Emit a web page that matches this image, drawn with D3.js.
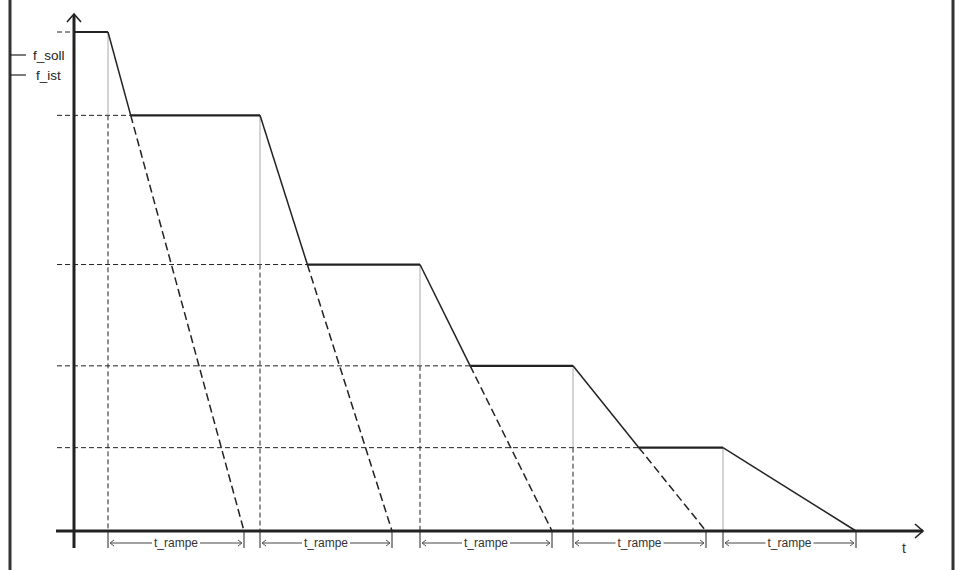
<!DOCTYPE html>
<html><head><meta charset="utf-8">
<script src="https://cdn.jsdelivr.net/npm/d3@7"></script>
<style>html,body{margin:0;padding:0;background:#fff;}svg{display:block;}</style>
</head><body>
<script>
// Data (arbitrary units): switch times, frequency levels, ramp end times (f -> 0)
const switchTimes = [34, 186, 346, 499, 649];
const levels = [100, 83.3, 53.4, 33.1, 16.7];
const rampEnds = [170, 318, 478, 632, 782];
const legendLabels = ["f_soll", "f_ist"];
const rampLabel = "t_rampe";
const axisLabelT = "t";

const W = 955, H = 570;
const svg = d3.select("body").append("svg").attr("width", W).attr("height", H);
const x = d3.scaleLinear().domain([0, 850]).range([74, 924]);
const y = d3.scaleLinear().domain([0, 100]).range([531, 32]);

const dark = "#222";
const font = "Liberation Sans, Arial, sans-serif";
// Frame borders
svg.append("line").attr("x1",10).attr("x2",10).attr("y1",0).attr("y2",H).attr("stroke","#333").attr("stroke-width",3);
svg.append("line").attr("x1",953).attr("x2",953).attr("y1",0).attr("y2",H).attr("stroke","#333").attr("stroke-width",3);

// Legend
legendLabels.forEach((l,i)=>{
  const yy = 55 + i*20;
  svg.append("line").attr("x1",10).attr("x2",26).attr("y1",yy).attr("y2",yy).attr("stroke",dark).attr("stroke-width",1.2);
  svg.append("text").attr("x", i===0?33:36).attr("y", yy+5).text(l)
    .attr("font-family",font).attr("font-size",13.5).attr("fill","#222");
});

// intersection of ramp i with next level
function rampAt(i, f){ return switchTimes[i] + (rampEnds[i]-switchTimes[i])*(levels[i]-f)/levels[i]; }
const hitTimes = levels.map((f,i)=> i===0 ? 0 : rampAt(i-1, f));

// Horizontal dashed helper lines at each level
levels.forEach((f,i)=>{
  svg.append("line").attr("x1",57).attr("x2",x(hitTimes[i])).attr("y1",y(f)).attr("y2",y(f))
    .attr("stroke",dark).attr("stroke-width",1).attr("stroke-dasharray","5,3");
});

// Vertical lines at switch times: gray solid down to next level, dashed below
switchTimes.forEach((t,i)=>{
  const fNext = i+1 < levels.length ? levels[i+1] : 0;
  svg.append("line").attr("x1",x(t)).attr("x2",x(t)).attr("y1",y(levels[i])).attr("y2",y(fNext))
    .attr("stroke","#aaa").attr("stroke-width",1);
  if (fNext > 0) {
    svg.append("line").attr("x1",x(t)).attr("x2",x(t)).attr("y1",y(fNext)).attr("y2",y(0))
      .attr("stroke",dark).attr("stroke-width",1).attr("stroke-dasharray","5,3");
  }
});

// Dashed ramp extensions to zero
switchTimes.forEach((t,i)=>{
  if (i+1 < levels.length) {
    svg.append("line").attr("x1",x(hitTimes[i+1])).attr("y1",y(levels[i+1]))
      .attr("x2",x(rampEnds[i])).attr("y2",y(0))
      .attr("stroke",dark).attr("stroke-width",1.5).attr("stroke-dasharray","8,4");
  }
});

// Actual frequency profile (plateaus thick, ramps solid)
levels.forEach((f,i)=>{
  svg.append("line").attr("x1",x(hitTimes[i])).attr("x2",x(switchTimes[i])).attr("y1",y(f)).attr("y2",y(f))
    .attr("stroke",dark).attr("stroke-width",2.2);
  const fNext = i+1 < levels.length ? levels[i+1] : 0;
  const tEnd = i+1 < levels.length ? hitTimes[i+1] : rampEnds[i];
  svg.append("line").attr("x1",x(switchTimes[i])).attr("y1",y(f)).attr("x2",x(tEnd)).attr("y2",y(fNext))
    .attr("stroke",dark).attr("stroke-width",1.5);
});

// Axes
svg.append("line").attr("x1",56).attr("x2",923).attr("y1",y(0)).attr("y2",y(0)).attr("stroke",dark).attr("stroke-width",3);
svg.append("line").attr("x1",x(0)).attr("x2",x(0)).attr("y1",548).attr("y2",15).attr("stroke",dark).attr("stroke-width",3);
svg.append("path").attr("d",`M${x(0)-7},${22} L${x(0)},${14} L${x(0)+7},${22}`).attr("fill","none").attr("stroke",dark).attr("stroke-width",1.6);
svg.append("path").attr("d",`M${915},${y(0)-7} L${923},${y(0)} L${915},${y(0)+7}`).attr("fill","none").attr("stroke",dark).attr("stroke-width",1.6);
svg.append("text").attr("x",904).attr("y",553).text(axisLabelT)
  .attr("font-family",font).attr("font-size",14).attr("fill","#333").attr("text-anchor","middle");

// t_rampe dimension lines
const dimY = 543;
switchTimes.forEach((t,i)=>{
  const xa = x(t), xb = x(rampEnds[i]);
  [xa, xb].forEach(xx=>{
    svg.append("line").attr("x1",xx).attr("x2",xx).attr("y1",y(0)).attr("y2",548).attr("stroke",dark).attr("stroke-width",1);
  });
  const xm = (xa+xb)/2;
  svg.append("line").attr("x1",xa+2).attr("x2",xm-24).attr("y1",dimY).attr("y2",dimY).attr("stroke","#444").attr("stroke-width",1);
  svg.append("line").attr("x1",xm+24).attr("x2",xb-2).attr("y1",dimY).attr("y2",dimY).attr("stroke","#444").attr("stroke-width",1);
  svg.append("path").attr("d",`M${xa+6},${dimY-3} L${xa+2},${dimY} L${xa+6},${dimY+3}`).attr("fill","none").attr("stroke","#555").attr("stroke-width",1);
  svg.append("path").attr("d",`M${xb-6},${dimY-3} L${xb-2},${dimY} L${xb-6},${dimY+3}`).attr("fill","none").attr("stroke","#555").attr("stroke-width",1);
  svg.append("text").attr("x",xm).attr("y",dimY+4).text(rampLabel).attr("text-anchor","middle")
    .attr("font-family",font).attr("font-size",12).attr("fill","#333");
});
</script>
</body></html>
